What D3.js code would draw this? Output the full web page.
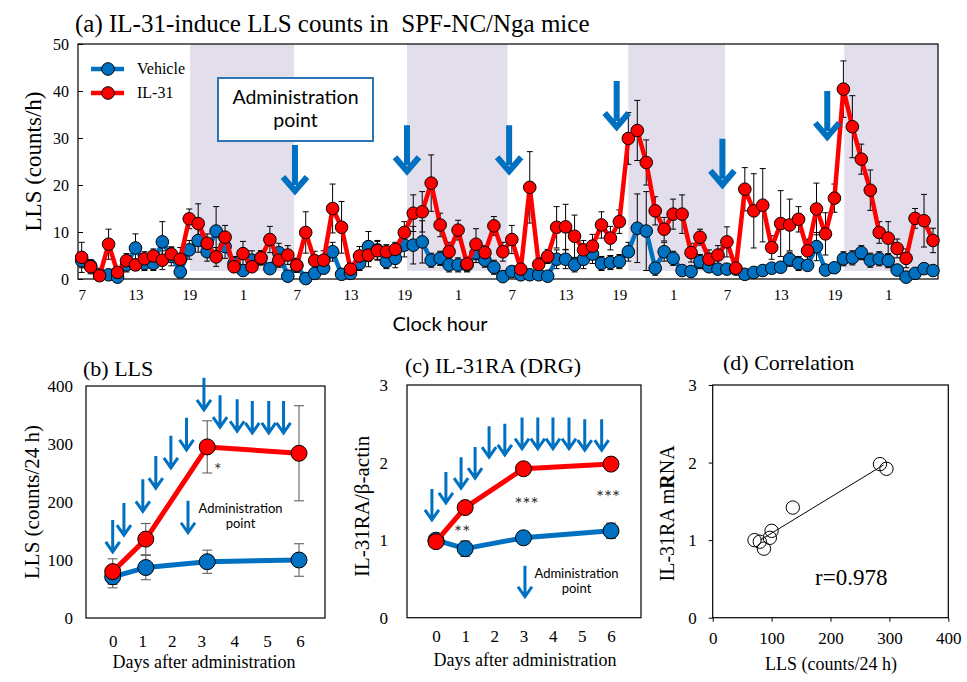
<!DOCTYPE html>
<html><head><meta charset="utf-8">
<script src="https://cdn.jsdelivr.net/npm/d3@7"></script>
<style>body{margin:0;background:#fff}</style>
</head><body>
<script>
// ---------- DATA ----------
// Panel (a): hourly LLS counts, 96 hours starting at 7:00
const hourTickLabels = ["7","13","19","1","7","13","19","1","7","13","19","1","7","13","19","1"];
const vehicleA = [3.9,2.8,1.0,0.9,0.4,3.0,6.6,3.3,3.3,7.9,4.8,1.5,6.2,8.2,5.8,10.2,6.9,3.3,1.8,4.0,4.5,2.2,5.6,0.6,
  2.9,0.1,1.2,2.3,5.8,1.0,1.2,3.3,6.9,6.2,3.7,4.4,7.2,7.2,7.9,4.0,4.4,3.0,3.0,3.0,5.5,4.0,2.5,0.5,
  1.6,0.9,0.9,0.9,0.6,4.2,4.2,3.0,4.2,5.3,3.3,3.5,3.7,5.8,10.8,10.2,2.3,5.8,4.4,1.8,1.6,3.7,2.6,2.1,
  2.1,2.1,1.0,1.4,1.8,2.3,2.5,4.2,3.3,2.9,6.9,1.9,2.4,4.3,4.5,5.6,4.0,4.3,3.9,1.9,0.4,1.2,2.2,1.8];
const vehicleAErr = [1.5,1.0,0.8,0.8,0.4,1.5,3.0,1.5,1.5,4.3,2.0,1.0,2.0,2.5,2.0,5.2,2.5,1.5,1.0,2.0,1.5,1.0,2.0,0.6,
  1.5,0.3,0.8,1.0,2.0,0.8,0.8,1.5,3.2,2.0,1.5,2.0,2.5,4.0,4.5,1.5,1.5,1.5,1.5,1.5,2.0,1.5,1.5,0.5,
  1.0,0.8,0.8,0.8,0.5,2.0,2.0,1.5,2.0,2.0,1.5,1.5,1.5,2.0,7.3,8.4,1.5,2.0,1.5,1.0,1.0,1.5,1.0,1.0,
  1.0,1.0,0.8,0.8,1.0,1.0,1.0,1.5,1.5,1.0,3.0,1.0,1.0,1.5,1.5,1.5,1.5,1.5,1.5,1.0,0.4,0.8,1.0,1.0];
const il31A = [4.6,2.6,0.7,7.4,1.4,3.9,3.0,4.3,4.9,4.0,5.3,4.2,12.8,11.8,7.6,4.7,8.9,2.6,5.4,2.6,4.5,8.4,4.0,5.1,
  2.9,9.9,3.9,4.0,15.0,11.0,2.1,4.9,5.1,6.0,5.8,6.3,9.9,14.0,14.3,20.4,11.5,5.8,10.4,3.2,7.4,5.6,11.3,5.8,
  8.4,2.1,19.5,3.1,4.8,11.0,11.1,9.1,6.2,7.0,11.5,8.7,12.2,29.9,31.6,24.8,14.5,10.6,13.8,13.8,5.6,8.9,4.2,5.1,
  7.9,2.3,19.1,14.5,15.7,6.7,11.8,11.5,12.7,6.0,14.9,9.6,17.2,40.4,32.4,25.5,18.9,9.9,8.7,6.5,4.4,12.9,12.4,8.2];
const il31AErr = [3.2,1.5,0.8,3.2,1.0,1.5,1.2,1.5,1.5,2.0,1.5,2.5,2.1,4.2,2.0,2.0,2.5,1.2,2.6,1.0,1.5,2.8,1.5,2.0,
  1.5,4.4,2.0,2.0,5.2,5.5,1.0,2.0,2.5,2.0,1.5,1.5,2.3,3.9,4.3,6.0,2.5,2.0,2.1,1.5,3.3,1.5,2.0,2.0,
  3.0,1.0,7.6,1.5,1.5,4.4,4.8,4.5,2.0,2.5,2.8,2.5,2.5,5.5,6.4,4.8,3.0,2.5,3.2,4.1,2.0,1.7,2.0,2.0,
  3.2,1.0,4.6,7.9,7.8,2.5,7.0,5.5,2.7,2.5,5.5,4.5,3.0,6.0,6.6,3.2,4.3,2.3,3.5,2.0,2.0,2.1,5.6,2.6];
const nightStart = [12.1, 36.3, 61.0, 85.1];
const nightEnd   = [23.7, 47.5, 71.8, 95.6];
const adminHourA = [23.8, 36.3, 47.7, 59.7, 71.5, 83.2];
const adminTipA  = [18.1, 22.3, 22.3, 31.7, 19.4, 29.6];

// Panel (b)
const daysB = [0, 1.12, 3.18, 5.97];
const vehicleB = [71, 87, 97, 100];
const vehicleBErr = [19, 21, 20, 28];
const il31B = [80, 136, 295, 284];
const il31BErr = [22, 27, 45, 82];
const adminDayB = [0, 0.38, 1.02, 1.46, 1.97, 2.5, 3.08, 3.57, 4.09, 4.55, 5.05, 5.5];
const adminTipB = [114, 143, 184, 224, 259, 290, 359, 329, 322, 319, 319, 319];

// Panel (c)
const daysC = [0, 1, 3, 6];
const vehicleC = [1.0, 0.89, 1.03, 1.12];
const vehicleCErr = [0.03, 0.1, 0.05, 0.1];
const il31C = [0.98, 1.42, 1.92, 1.98];
const il31CErr = [0.03, 0.04, 0.04, 0.08];
const adminDayC = [-0.14, 0.34, 0.86, 1.34, 1.82, 2.36, 2.95, 3.49, 4.01, 4.56, 5.1, 5.68];
const adminTipC = [1.26, 1.48, 1.67, 1.8, 2.07, 2.1, 2.18, 2.18, 2.18, 2.18, 2.16, 2.16];
const starsC = ["**", "***", "***"];
const starDayC = [1, 3, 6];
const starValC = [1.16, 1.52, 1.61];

// Panel (d): LLS vs IL-31RA mRNA
const llsD = vehicleB.concat(il31B);
const mrnaD = vehicleC.concat(il31C);
const rText = "r=0.978";

// ---------- DRAW ----------
const W = 967, H = 682;
const serif = "'Liberation Serif','Times New Roman',serif";
const sans = "Lato,'Open Sans',sans-serif";
const BLUE = "#0070C0", RED = "#FF0000", SHADE = "#E3DEEB";

const svg = d3.select("body").append("svg").attr("width", W).attr("height", H)
  .style("background", "#fff");

function errBars(g, xs, ys, es, xS, yS, cap, color, sw, clampMin) {
  g.append("g").selectAll("path")
    .data(xs.map((x, i) => ({x, y: ys[i], e: es[i]})))
    .join("path")
    .attr("d", d => {
      const x = xS(d.x);
      const lo = clampMin != null ? Math.max(clampMin, d.y - d.e) : d.y - d.e;
      const y1 = yS(lo), y2 = yS(d.y + d.e);
      return `M${x},${y1}V${y2}M${x - cap},${y2}h${2 * cap}` + (lo > (clampMin ?? -1e9) ? `M${x - cap},${y1}h${2 * cap}` : "");
    })
    .attr("stroke", color).attr("stroke-width", sw).attr("fill", "none");
}
function arrow(g, x, yTip, len, hw, hh, sw) {
  g.append("path")
    .attr("d", `M${x},${yTip - len}V${yTip - sw}M${x - hw},${yTip - hh}L${x},${yTip}L${x + hw},${yTip - hh}`)
    .attr("fill", "none").attr("stroke", BLUE).attr("stroke-width", sw)
    .attr("stroke-linejoin", "miter").attr("stroke-linecap", "butt");
}
function styleAxis(a, size) {
  a.select(".domain").remove();
  a.selectAll("text").attr("font-family", serif).attr("font-size", size).attr("fill", "#000");
  a.selectAll("line").attr("stroke", "#000");
}
function series(g, xs, ys, xS, yS, color, lw, r) {
  g.append("path").datum(ys)
    .attr("d", d3.line().x((d, i) => xS(xs[i])).y(d => yS(d)))
    .attr("fill", "none").attr("stroke", color).attr("stroke-width", lw).attr("stroke-linejoin", "round");
  g.append("g").selectAll("circle").data(ys).join("circle")
    .attr("cx", (d, i) => xS(xs[i])).attr("cy", d => yS(d)).attr("r", r)
    .attr("fill", color).attr("stroke", "#000").attr("stroke-width", 1);
}

// ===== Panel (a) =====
{
  const L = 78, R = 938, T = 44, B = 279;
  const xA = d3.scaleLinear().domain([0, 95]).range([81.7, 933]);
  const yA = d3.scaleLinear().domain([0, 50]).range([B, T]);
  const idx = d3.range(vehicleA.length);
  const g = svg.append("g");

  g.selectAll("rect.night").data(nightStart).join("rect")
    .attr("x", (d) => xA(d)).attr("width", (d, i) => Math.min(R, xA(nightEnd[i])) - xA(d))
    .attr("y", T).attr("height", yA(1.7) - T).attr("fill", SHADE);

  g.append("rect").attr("x", L).attr("y", T).attr("width", R - L).attr("height", B - T)
    .attr("fill", "none").attr("stroke", "#000").attr("stroke-width", 1.2);

  const ay = g.append("g").attr("transform", `translate(${L},0)`)
    .call(d3.axisLeft(yA).tickValues([0, 10, 20, 30, 40, 50]).tickSize(-5).tickPadding(9));
  styleAxis(ay, 16);
  const ax = g.append("g").attr("transform", `translate(0,${B})`)
    .call(d3.axisBottom(xA).tickValues(d3.range(0, 96, 6)).tickFormat((d, i) => hourTickLabels[i]).tickSize(0).tickPadding(10));
  styleAxis(ax, 15);

  errBars(g, idx, vehicleA, vehicleAErr, xA, yA, 3, "#000", 1, 0);
  errBars(g, idx, il31A, il31AErr, xA, yA, 3, "#000", 1, 0);
  series(g, idx, vehicleA, xA, yA, BLUE, 4.5, 6.3);
  series(g, idx, il31A, xA, yA, RED, 4.5, 6.3);

  adminHourA.forEach((h, i) => arrow(g, xA(h), yA(adminTipA[i]) - 3, 46, 12, 14, 6));

  // legend
  const leg = [["Vehicle", BLUE, 69], ["IL-31", RED, 93]];
  leg.forEach(([t, c, y]) => {
    g.append("line").attr("x1", 91).attr("x2", 124).attr("y1", y).attr("y2", y)
      .attr("stroke", c).attr("stroke-width", 4.5);
    g.append("circle").attr("cx", 108).attr("cy", y).attr("r", 6.3).attr("fill", c)
      .attr("stroke", "#000").attr("stroke-width", 1);
    g.append("text").attr("x", 137).attr("y", y + 5).text(t)
      .attr("font-family", serif).attr("font-size", 16);
  });

  // admin box
  g.append("rect").attr("x", 218).attr("y", 78).attr("width", 155).attr("height", 63)
    .attr("fill", "#fff").attr("stroke", "#2E75B6").attr("stroke-width", 2);
  g.append("text").attr("x", 295.5).attr("y", 104).attr("text-anchor", "middle")
    .attr("font-family", sans).attr("font-size", 19.5).text("Administration");
  g.append("text").attr("x", 295.5).attr("y", 127).attr("text-anchor", "middle")
    .attr("font-family", sans).attr("font-size", 19.5).text("point");

  g.append("text").attr("x", 75).attr("y", 32).style("white-space", "pre")
    .attr("font-family", serif).attr("font-size", 25)
    .text("(a) IL-31-induce LLS counts in  SPF-NC/Nga mice");
  g.append("text").attr("transform", `translate(33,${(T + B) / 2}) rotate(-90)`)
    .attr("text-anchor", "middle").attr("dominant-baseline", "central")
    .attr("font-family", serif).attr("font-size", 23).text("LLS (counts/h)");
  g.append("text").attr("x", 440).attr("y", 331).attr("text-anchor", "middle")
    .attr("font-family", sans).attr("font-size", 20).text("Clock hour");
}

// ===== Panel (b) =====
{
  const L = 86, R = 325, T = 386, B = 618;
  const xB = d3.scaleLinear().domain([0, 3, 6]).range([112.7, 201.3, 300]);
  const yB = d3.scaleLinear().domain([0, 400]).range([B, T]);
  const g = svg.append("g");
  g.append("rect").attr("x", L).attr("y", T).attr("width", R - L).attr("height", B - T)
    .attr("fill", "none").attr("stroke", "#000").attr("stroke-width", 1.2);
  const ay = g.append("g").attr("transform", `translate(${L},0)`)
    .call(d3.axisLeft(yB).tickValues([0, 100, 200, 300, 400]).tickSize(0).tickPadding(13));
  styleAxis(ay, 17);
  const ax = g.append("g").attr("transform", `translate(0,${B})`)
    .call(d3.axisBottom(xB).tickValues([0, 1, 2, 3, 4, 5, 6]).tickFormat(d3.format("d")).tickSize(0).tickPadding(17));
  styleAxis(ax, 17);

  errBars(g, daysB, vehicleB, vehicleBErr, xB, yB, 5, "#555", 1);
  errBars(g, daysB, il31B, il31BErr, xB, yB, 5, "#555", 1);
  series(g, daysB, vehicleB, xB, yB, BLUE, 5, 8);
  series(g, daysB, il31B, xB, yB, RED, 5, 8);

  adminDayB.forEach((d, i) => arrow(g, xB(d), yB(adminTipB[i]), 32, 7, 10, 3));
  arrow(g, xB(2.55), yB(147), 32, 7, 10, 3);
  g.append("text").attr("x", 240.5).attr("y", 513).attr("text-anchor", "middle")
    .attr("font-family", sans).attr("font-size", 13).text("Administration");
  g.append("text").attr("x", 240.5).attr("y", 528).attr("text-anchor", "middle")
    .attr("font-family", sans).attr("font-size", 13).text("point");
  g.append("text").attr("x", xB(3.5)).attr("y", 476).attr("text-anchor", "middle")
    .attr("font-family", sans).attr("font-size", 18).attr("fill", "#333").text("*");

  g.append("text").attr("x", 83).attr("y", 376).attr("font-family", serif).attr("font-size", 22).text("(b) LLS");
  g.append("text").attr("transform", `translate(32,${(T + B) / 2}) rotate(-90)`)
    .attr("text-anchor", "middle").attr("dominant-baseline", "central")
    .attr("font-family", serif).attr("font-size", 21).text("LLS (counts/24 h)");
  g.append("text").attr("x", 204).attr("y", 668).attr("text-anchor", "middle")
    .attr("font-family", serif).attr("font-size", 18).text("Days after administration");
}

// ===== Panel (c) =====
{
  const L = 407, R = 641, T = 385, B = 617.7;
  const xC = d3.scaleLinear().domain([0, 6]).range([436, 611]);
  const yC = d3.scaleLinear().domain([0, 3]).range([B, T]);
  const g = svg.append("g");
  g.append("rect").attr("x", L).attr("y", T).attr("width", R - L).attr("height", B - T)
    .attr("fill", "none").attr("stroke", "#000").attr("stroke-width", 1.2);
  const ay = g.append("g").attr("transform", `translate(${L},0)`)
    .call(d3.axisLeft(yC).tickValues([0, 1, 2, 3]).tickFormat(d3.format("d")).tickSize(0).tickPadding(19));
  styleAxis(ay, 17);
  const ax = g.append("g").attr("transform", `translate(0,${B})`)
    .call(d3.axisBottom(xC).tickValues([0, 1, 2, 3, 4, 5, 6]).tickFormat(d3.format("d")).tickSize(0).tickPadding(12));
  styleAxis(ax, 17);

  errBars(g, daysC, vehicleC, vehicleCErr, xC, yC, 5, "#555", 1);
  errBars(g, daysC, il31C, il31CErr, xC, yC, 5, "#555", 1);
  series(g, daysC, vehicleC, xC, yC, BLUE, 5, 8);
  series(g, daysC, il31C, xC, yC, RED, 5, 8);

  adminDayC.forEach((d, i) => arrow(g, xC(d), yC(adminTipC[i]), 31, 7, 10, 3));
  arrow(g, xC(3.05), yC(0.27), 31, 7, 10, 3);
  g.append("text").attr("x", 576.5).attr("y", 578).attr("text-anchor", "middle")
    .attr("font-family", sans).attr("font-size", 13).text("Administration");
  g.append("text").attr("x", 576.5).attr("y", 593).attr("text-anchor", "middle")
    .attr("font-family", sans).attr("font-size", 13).text("point");
  starsC.forEach((s, i) => g.append("text").attr("x", xC(starDayC[i]) + (i === 1 ? 3 : -3))
    .attr("y", yC(starValC[i]) + 11).attr("text-anchor", "middle")
    .attr("font-family", sans).attr("font-size", 19).attr("fill", "#333").text(s));

  g.append("text").attr("x", 405).attr("y", 373).attr("font-family", serif).attr("font-size", 22).text("(c) IL-31RA (DRG)");
  g.append("text").attr("transform", `translate(362,${(T + B) / 2 + 5}) rotate(-90)`)
    .attr("text-anchor", "middle").attr("dominant-baseline", "central")
    .attr("font-family", serif).attr("font-size", 21).text("IL-31RA/β-actin");
  g.append("text").attr("x", 525).attr("y", 666).attr("text-anchor", "middle")
    .attr("font-family", serif).attr("font-size", 18).text("Days after administration");
}

// ===== Panel (d) =====
{
  const L = 712.7, R = 948.3, T = 385, B = 617.7;
  const xD = d3.scaleLinear().domain([0, 400]).range([L, R]);
  const yD = d3.scaleLinear().domain([0, 3]).range([B, T]);
  const g = svg.append("g");
  g.append("rect").attr("x", L).attr("y", T).attr("width", R - L).attr("height", B - T)
    .attr("fill", "none").attr("stroke", "#000").attr("stroke-width", 1.2);
  const ay = g.append("g").attr("transform", `translate(${L},0)`)
    .call(d3.axisLeft(yD).tickValues([0, 1, 2, 3]).tickFormat(d3.format("d")).tickSize(4).tickPadding(12));
  styleAxis(ay, 17);
  const ax = g.append("g").attr("transform", `translate(0,${B})`)
    .call(d3.axisBottom(xD).tickValues([0, 100, 200, 300, 400]).tickSize(4).tickPadding(10));
  styleAxis(ax, 17);

  // least-squares line
  const mx = d3.mean(llsD), my = d3.mean(mrnaD);
  const slope = d3.sum(llsD, (x, i) => (x - mx) * (mrnaD[i] - my)) / d3.sum(llsD, x => (x - mx) ** 2);
  const x0 = d3.min(llsD) + 10, x1 = d3.max(llsD) - 5;
  g.append("line").attr("x1", xD(x0)).attr("y1", yD(my + slope * (x0 - mx)))
    .attr("x2", xD(x1)).attr("y2", yD(my + slope * (x1 - mx)))
    .attr("stroke", "#000").attr("stroke-width", 1);
  g.append("g").selectAll("circle").data(llsD).join("circle")
    .attr("cx", d => xD(d)).attr("cy", (d, i) => yD(mrnaD[i])).attr("r", 6.7)
    .attr("fill", "none").attr("stroke", "#000").attr("stroke-width", 1);

  g.append("text").attr("x", 815).attr("y", 585).attr("font-family", serif).attr("font-size", 23).text(rText);
  g.append("text").attr("x", 723).attr("y", 370).attr("font-family", serif).attr("font-size", 22).text("(d) Correlation");
  const yl = g.append("text").attr("transform", `translate(667,${(T + B) / 2 + 12}) rotate(-90)`)
    .attr("text-anchor", "middle").attr("dominant-baseline", "central")
    .attr("font-family", serif).attr("font-size", 20);
  yl.append("tspan").text("IL-31RA m");
  yl.append("tspan").attr("font-weight", "bold").text("R");
  yl.append("tspan").text("NA");
  g.append("text").attr("x", 831).attr("y", 670).attr("text-anchor", "middle")
    .attr("font-family", serif).attr("font-size", 18).text("LLS (counts/24 h)");
}
</script>
</body></html>
